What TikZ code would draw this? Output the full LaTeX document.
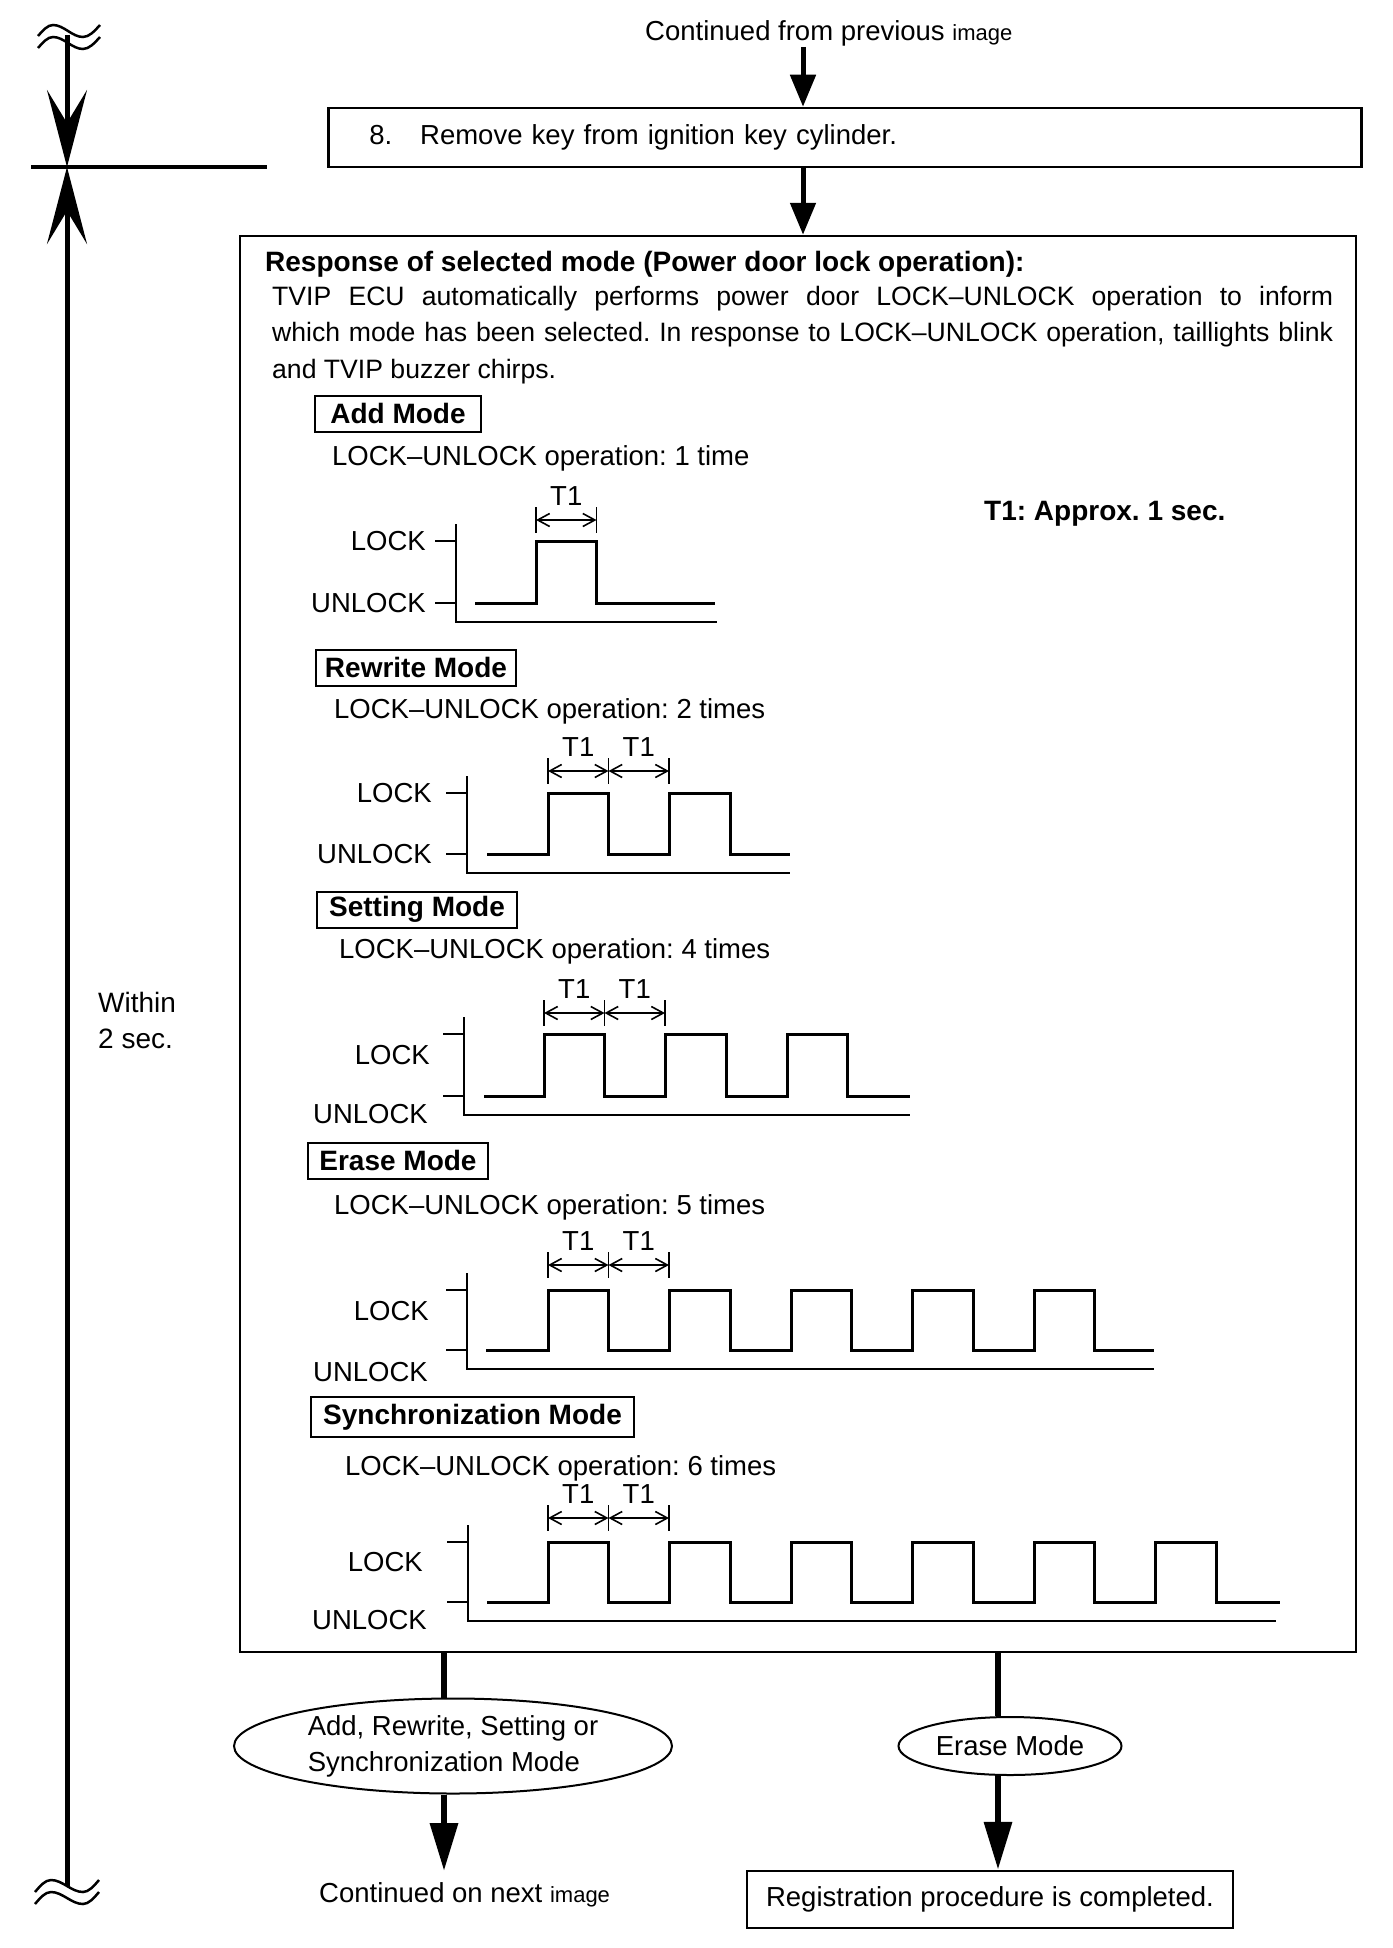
\documentclass[tikz,border=0pt]{standalone}
\usepackage{fontspec}
\setmainfont{Liberation Sans}
\frenchspacing
\usetikzlibrary{arrows.meta,calc,positioning,shapes.geometric}

\begin{document}
\begin{tikzpicture}[x=1pt,y=-1pt,
  font=\fontsize{27.5}{36}\selectfont,
  every node/.style={inner sep=0pt},
  framebox/.style={draw,line width=2.5pt},
  modebox/.style={draw,line width=2pt,minimum height=36pt,font=\fontsize{28}{34}\selectfont\bfseries},
  boldtext/.style={font=\fontsize{28}{34}\selectfont\bfseries},
  bubble/.style={draw,ellipse,line width=2pt,align=left},
  flowtop/.style={line width=5pt,-{Triangle[length=32pt,width=25pt]}},
  flow/.style={line width=6.5pt,-{Triangle[length=48pt,width=27pt]}},
  stem/.style={line width=6.5pt},
  wave/.style={line width=3pt},
  axisline/.style={line width=2pt},
  dim/.style={line width=1.6pt,{Straight Barb[length=12pt,width=13pt]}-{Straight Barb[length=12pt,width=13pt]}},
  timeline/.style={line width=5pt,-{Stealth[length=77pt,width=40pt,inset=33pt]}},
  wavy/.style={line width=2.5pt}]
\useasboundingbox (0,0) rectangle (1392,1948);

% top of the page
\node[anchor=base west] (prev) at (645,41) {Continued from previous {\fontsize{22}{26}\selectfont image}};
\coordinate (coltop) at (803,0);
\node[framebox,anchor=west,minimum height=59pt,inner xsep=41pt,text width=951pt,align=left] (step8) at (327,137.5) {8.\hspace{28pt}Remove key from ignition key cylinder.};
\node[framebox,minimum width=1116pt,minimum height=1416pt] (resp) at (798,944) {};
\draw[flowtop] (prev.south -| coltop) -- (step8.north -| coltop);
\draw[flowtop] (step8.south -| coltop) -- (resp.north -| coltop);

% time line on the left
\coordinate (wtop) at (67,35);
\coordinate (wbot) at (67,1886);
\coordinate (mark) at (67,167);
\coordinate (markL) at (31,167);
\coordinate (markR) at (267,167);
\draw[line width=3.5pt] (markL) -- (markR);
\draw[timeline] (wtop) -- (mark);
\draw[timeline] (wbot) -- (mark);
\foreach \y in {0,12}{
  \draw[wavy] (38,36+\y) sin (53,25+\y) cos (68,31+\y) sin (83,37+\y) cos (100,25+\y);
  \draw[wavy] (35,1892+\y) sin (51,1880+\y) cos (67,1886+\y) sin (83,1892+\y) cos (99,1880+\y);
}
\node[anchor=north west,align=left,font=\fontsize{28}{36}\selectfont] (within) at (98,992) {Within\\2 sec.};

% response text
\node[anchor=base west,boldtext] (head) at (265,271) {Response of selected mode (Power door lock operation):};
\node[anchor=north west,text width=1061pt,align=justify,font=\fontsize{26.6}{36.5}\selectfont] (intro) at (272,286) {\tolerance=9999 TVIP ECU automatically performs power door LOCK–UNLOCK operation to inform\linebreak which mode has been selected. In response to LOCK–UNLOCK operation, taillights blink\linebreak and TVIP buzzer chirps.};
\node[anchor=base west,boldtext] (t1note) at (984,520) {T1: Approx. 1 sec.};

% modes
\node[modebox,minimum width=166pt] (addbox) at (398,413.5) {Add Mode};
\node[anchor=base west] (addop) at (332,465) {LOCK–UNLOCK operation: 1 time};
\node[modebox,minimum width=200pt] (rewritebox) at (416,667.5) {Rewrite Mode};
\node[anchor=base west] (rewriteop) at (334,718) {LOCK–UNLOCK operation: 2 times};
\node[modebox,minimum width=200pt] (settingbox) at (417,909.5) {Setting Mode};
\node[anchor=base west] (settingop) at (339,958) {LOCK–UNLOCK operation: 4 times};
\node[modebox,minimum width=180pt] (erasebox) at (398,1160.5) {Erase Mode};
\node[anchor=base west] (eraseop) at (334,1214) {LOCK–UNLOCK operation: 5 times};
\node[modebox,minimum width=323pt,minimum height=40pt] (syncbox) at (472.5,1417) {Synchronization Mode};
\node[anchor=base west] (syncop) at (345,1475) {LOCK–UNLOCK operation: 6 times};

% lock-unlock charts
\foreach \ax/\hi/\lo/\bend/\st/\rz/\n/\en/\dy/\nd/\lx/\ly/\ux/\uy [count=\c] in {
  456/541/603/717/475/536/1/715/520/1/426/541/426/603,
  467/793/854/790/487/548/2/790/771/2/432/793/432/854,
  464/1034/1096/910/484/544/3/910/1013/2/430/1055/428/1114,
  467/1290/1350/1154/486/548/5/1154/1265/2/429/1311/428/1372,
  468/1542/1602/1276/487/548/6/1280/1518/2/423/1562/427/1620}{
  \draw[axisline] ({\ax},{\hi-17}) -- ({\ax},{\lo+19}) -- ({\bend},{\lo+19});
  \draw[axisline] ({\ax-21},\hi) -- (\ax,\hi) ({\ax-21},\lo) -- (\ax,\lo);
  \node[anchor=east] (lock\c) at (\lx,\ly) {LOCK};
  \node[anchor=east] (unlock\c) at (\ux,\uy) {UNLOCK};
  \draw[wave] (\st,\lo) foreach \k in {1,...,\n}{
    -- ({\rz+(\k-1)*121.5},\lo) -- ({\rz+(\k-1)*121.5},\hi)
    -- ({\rz+(\k-1)*121.5+60.5},\hi) -- ({\rz+(\k-1)*121.5+60.5},\lo)} -- (\en,\lo);
  \foreach \d in {0,...,\nd}
    \draw[line width=1.6pt] ({\rz+\d*60.5},{\dy-13}) -- ({\rz+\d*60.5},{\dy+13});
  \foreach \d in {1,...,\nd}{
    \draw[dim] ({\rz+(\d-1)*60.5},\dy) -- ({\rz+\d*60.5},\dy);
    \node[anchor=base] (tone\c-\d) at ({\rz+(\d-0.5)*60.5},{\dy-15}) {T1};
  }
}

% branches below
\coordinate (colL) at (444,0);
\coordinate (colR) at (998,0);
\node[bubble,minimum width=438pt,minimum height=95pt] (ellA) at (453,1746) {Add, Rewrite, Setting or\\Synchronization Mode};
\node[bubble,minimum width=223pt,minimum height=58pt] (ellE) at (1010,1746) {Erase Mode};
\node[framebox,minimum width=486pt,minimum height=57pt] (done) at (990,1899.5) {Registration procedure is completed.};
\node[anchor=base west] (next) at (319,1902) {Continued on next {\fontsize{22}{26}\selectfont image}};
\coordinate (tipL) at (444,1871);
\draw[stem] (resp.south -| colL) -- (ellA.north -| colL);
\draw[flow] (ellA.south -| colL) -- (tipL);
\draw[stem] (resp.south -| colR) -- (ellE.north -| colR);
\draw[flow] (ellE.south -| colR) -- (done.north -| colR);
\end{tikzpicture}
\end{document}
